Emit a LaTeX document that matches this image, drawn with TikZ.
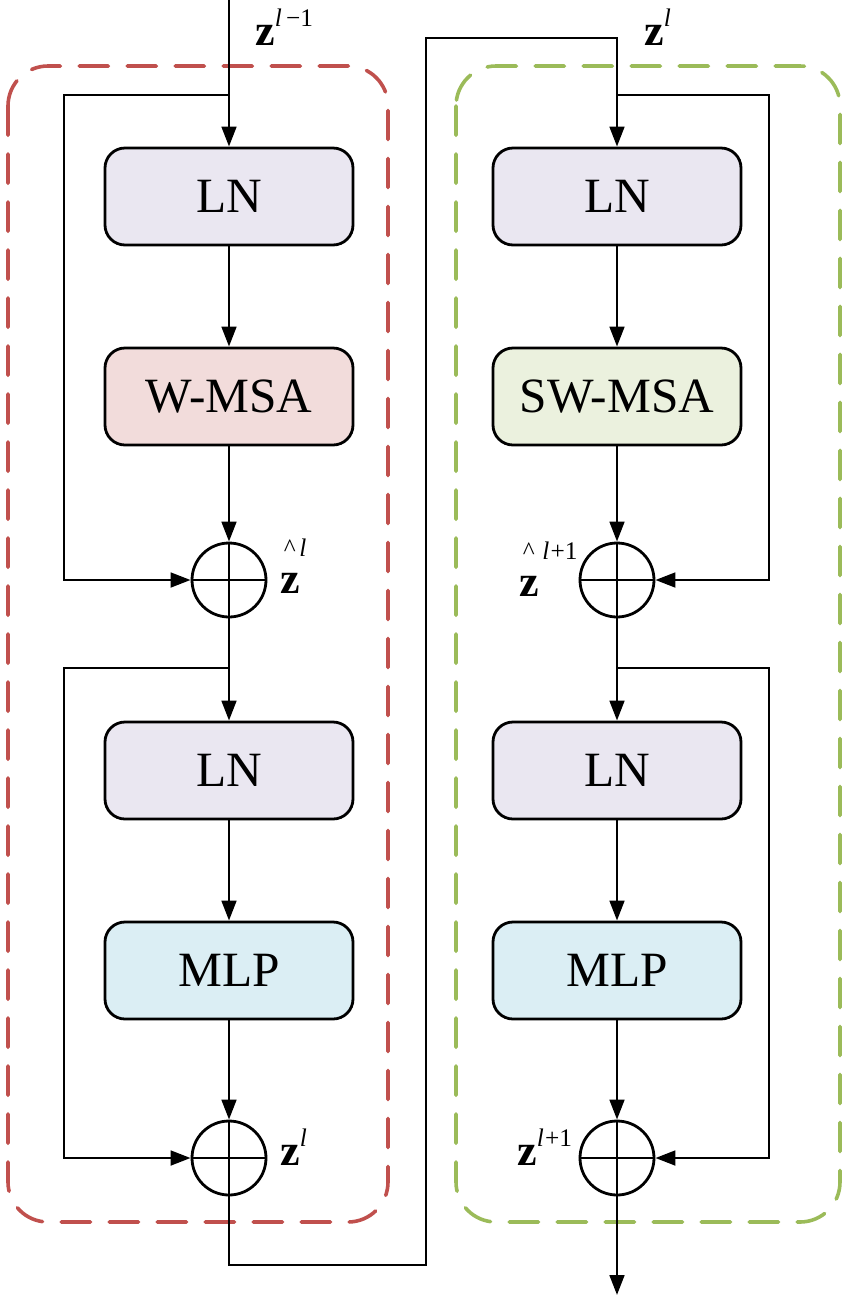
\documentclass[tikz,border=0pt]{standalone}
\usepackage{fontspec}
\setmainfont{Liberation Serif}
\usetikzlibrary{arrows.meta}
\definecolor{lnfill}{RGB}{234,231,241}
\definecolor{wfill}{RGB}{242,220,219}
\definecolor{swfill}{RGB}{235,241,222}
\definecolor{mlpfill}{RGB}{219,238,244}
\definecolor{redd}{RGB}{192,80,77}
\definecolor{greend}{RGB}{155,187,89}
\newcommand\zsup[1]{\raisebox{0.42em}{\fontsize{19}{21}\selectfont #1}}
\newcommand\zhat[1]{\rlap{\hspace{0.08em}\raisebox{0.84em}{\fontsize{19}{21}\selectfont\textasciicircum\hspace{0.15em}#1}}\textbf{z}}
\begin{document}
\begin{tikzpicture}[x=0.75pt,y=-0.75pt,
  blk/.style={draw,line width=2.1pt,rounded corners=15pt,minimum width=186pt,minimum height=72.75pt,inner sep=0pt,font=\fontsize{37}{40}\selectfont},
  addc/.style={draw,circle,line width=2.1pt,minimum size=55.5pt,inner sep=0pt},
  arr/.style={line width=2.1pt,-{Triangle[width=11pt,length=15pt]}},
  ln/.style={line width=2.1pt},
  lab/.style={anchor=base west,inner sep=0pt,font=\fontsize{33}{36}\selectfont},
  grp/.style={line width=2.7pt,rounded corners=30pt,dash pattern=on 22pt off 14pt,line cap=round}]
\useasboundingbox (0,0) rectangle (843,1297);
% group frames
\draw[grp,redd] (8,66) rectangle (388,1222);
\draw[grp,greend] (456,66) rectangle (840,1222);
% left column
\node[blk,fill=lnfill] (ln1) at (229,196.5) {LN};
\node[blk,fill=wfill] (wmsa) at (229,396.5) {W-MSA};
\node[addc] (c1) at (229,580) {};
\node[blk,fill=lnfill] (ln2) at (229,770.5) {LN};
\node[blk,fill=mlpfill] (mlp1) at (229,970.5) {MLP};
\node[addc] (c2) at (229,1158) {};
% right column
\node[blk,fill=lnfill] (ln3) at (617,196.5) {LN};
\node[blk,fill=swfill] (swmsa) at (617,396.5) {SW-MSA};
\node[addc] (c3) at (617,580) {};
\node[blk,fill=lnfill] (ln4) at (617,770.5) {LN};
\node[blk,fill=mlpfill] (mlp2) at (617,970.5) {MLP};
\node[addc] (c4) at (617,1158) {};
% plus signs
\foreach \c in {c1,c2,c3,c4}{\draw[ln] (\c.north) -- (\c.south) (\c.west) -- (\c.east);}
% coordinates
\coordinate (in) at (229,0);
\coordinate (b1) at (229,95);
\coordinate (b2) at (229,668);
\coordinate (j1) at (229,1265);
\coordinate (j2) at (426,38);
\coordinate (b3) at (617,95);
\coordinate (b4) at (617,668);
\coordinate (out) at (617,1295);
% left connectors
\draw[arr] (in) -- (ln1.north);
\draw[arr] (b1) -- ++(-165,0) |- (c1.west);
\draw[arr] (ln1.south) -- (wmsa.north);
\draw[arr] (wmsa.south) -- (c1.north);
\draw[arr] (c1.south) -- (ln2.north);
\draw[arr] (b2) -- ++(-165,0) |- (c2.west);
\draw[arr] (ln2.south) -- (mlp1.north);
\draw[arr] (mlp1.south) -- (c2.north);
% transfer
\draw[arr] (c2.south) -- (j1) -| (j2) -| (ln3.north);
% right connectors
\draw[arr] (b3) -- ++(152,0) |- (c3.east);
\draw[arr] (ln3.south) -- (swmsa.north);
\draw[arr] (swmsa.south) -- (c3.north);
\draw[arr] (c3.south) -- (ln4.north);
\draw[arr] (b4) -- ++(152,0) |- (c4.east);
\draw[arr] (ln4.south) -- (mlp2.north);
\draw[arr] (mlp2.south) -- (c4.north);
\draw[arr] (c4.south) -- (out);
% labels
\node[lab] (zin) at (255,45) {\textbf{z}\zsup{\textit{l}\,−1}};
\node[lab] (zmid) at (644,45) {\textbf{z}\zsup{\textit{l}}};
\node[lab] (zh1) at (280,593) {\zhat{\textit{l}}};
\node[lab] (zh2) at (519,596) {\zhat{\hspace{0.15em}\textit{l}\hspace{0.05em}+1}};
\node[lab] (zl) at (280,1165) {\textbf{z}\zsup{\textit{l}}};
\node[lab] (zl1) at (517,1165) {\textbf{z}\zsup{\textit{l}\hspace{0.05em}+1}};
\end{tikzpicture}
\end{document}
